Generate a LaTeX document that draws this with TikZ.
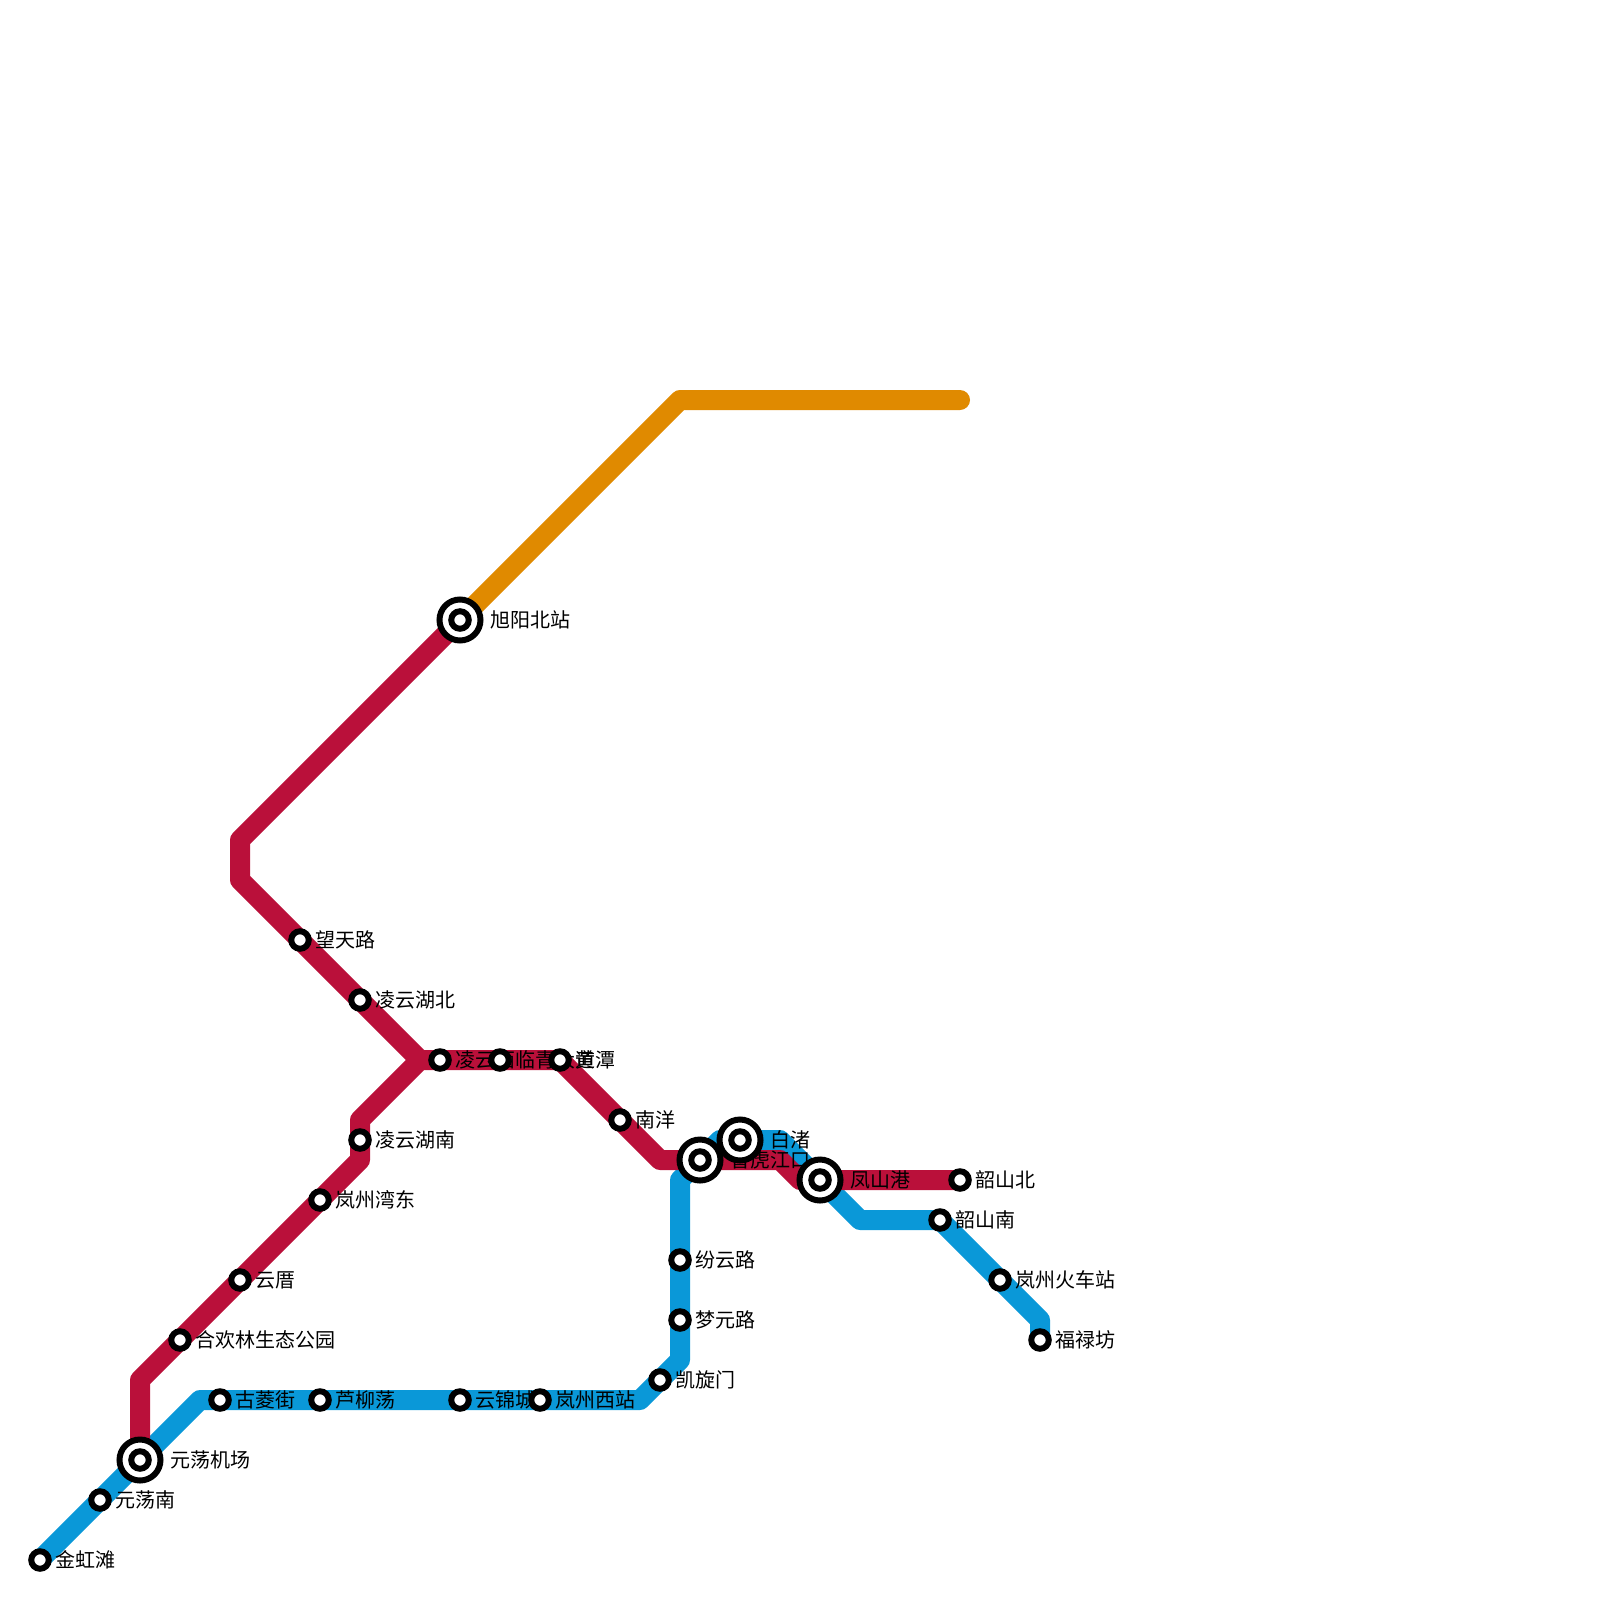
\documentclass[tikz,border=0pt]{standalone}
\usepackage{fontspec}
\setmainfont{Noto Sans CJK SC}
\tikzset{x=1pt,y=-1pt,
 metro/.style={line width=20pt,line join=round,line cap=round},
 sta/.style={circle,draw=black,fill=white,line width=6pt,minimum size=17.5pt,inner sep=0pt},
 hubo/.style={circle,draw=black,fill=white,line width=6pt,minimum size=41pt,inner sep=0pt},
 hubi/.style={circle,draw=black,fill=white,line width=6pt,minimum size=17.5pt,inner sep=0pt},
 lab/.style={anchor=west,inner sep=0pt,font=\fontsize{20}{20}\selectfont}}
\definecolor{bl}{HTML}{0A98D8}
\definecolor{rd}{HTML}{BA103A}
\definecolor{og}{HTML}{E08A00}
\begin{document}
\begin{tikzpicture}
\useasboundingbox (0,0) rectangle (1600,1600);
\fill[white] (0,0) rectangle (1600,1600);
\coordinate (a1) at (40,1560); \coordinate (a2) at (200,1400); \coordinate (a3) at (640,1400);
\coordinate (a4) at (680,1360); \coordinate (a5) at (680,1180); \coordinate (a6) at (720,1140);
\coordinate (a7) at (780,1140); \coordinate (a8) at (860,1220); \coordinate (a9) at (940,1220);
\coordinate (a10) at (1040,1320); \coordinate (a11) at (1040,1340);
\draw[metro,bl] (a1)--(a2)--(a3)--(a4)--(a5)--(a6)--(a7)--(a8)--(a9)--(a10)--(a11);
\coordinate (r1) at (140,1460); \coordinate (r2) at (140,1380); \coordinate (r3) at (360,1160);
\coordinate (r4) at (360,1120); \coordinate (r5) at (420,1060); \coordinate (r6) at (560,1060);
\coordinate (r7) at (660,1160); \coordinate (r8) at (780,1160); \coordinate (r9) at (800,1180);
\coordinate (r10) at (960,1180);
\draw[metro,rd] (r1)--(r2)--(r3)--(r4)--(r5)--(r6)--(r7)--(r8)--(r9)--(r10);
\coordinate (s1) at (420,1060); \coordinate (s2) at (240,880); \coordinate (s3) at (240,840); \coordinate (s4) at (460,620);
\draw[metro,rd] (s1)--(s2)--(s3)--(s4);
\coordinate (o1) at (460,620); \coordinate (o2) at (680,400); \coordinate (o3) at (960,400);
\draw[metro,og] (o1)--(o2)--(o3);
% labels
\node[lab] (l1) at (55,1560) {金虹滩};
\node[lab] (l2) at (115,1500) {元荡南};
\node[lab] (l3) at (170,1460) {元荡机场};
\node[lab] (l4) at (235,1400) {古菱街};
\node[lab] (l5) at (335,1400) {芦柳荡};
\node[lab] (l6) at (475,1400) {云锦城};
\node[lab] (l7) at (555,1400) {岚州西站};
\node[lab] (l8) at (675,1380) {凯旋门};
\node[lab] (l9) at (695,1320) {梦元路};
\node[lab] (l10) at (695,1260) {纷云路};
\node[lab] (l11) at (730,1160) {曹虎江口};
\node[lab] (l12) at (770,1140) {白渚};
\node[lab] (l13) at (850,1180) {凤山港};
\node[lab] (l14) at (955,1220) {韶山南};
\node[lab] (l15) at (1015,1280) {岚州火车站};
\node[lab] (l16) at (1055,1340) {福禄坊};
\node[lab] (l17) at (195,1340) {合欢林生态公园};
\node[lab] (l18) at (255,1280) {云厝};
\node[lab] (l19) at (335,1200) {岚州湾东};
\node[lab] (l20) at (375,1140) {凌云湖南};
\node[lab] (l21) at (375,1000) {凌云湖北};
\node[lab] (l22) at (315,940) {望天路};
\node[lab] (l23) at (455,1060) {凌云西};
\node[lab] (l24) at (515,1060) {临青大道};
\node[lab] (l25) at (575,1060) {黄潭};
\node[lab] (l26) at (635,1120) {南洋};
\node[lab] (l27) at (975,1180) {韶山北};
\node[lab] (l28) at (490,620) {旭阳北站};
% stations
\foreach \n/\p in {t1/{40,1560},t2/{100,1500},t3/{220,1400},t4/{320,1400},t5/{460,1400},t6/{540,1400},t7/{660,1380},t8/{680,1320},t9/{680,1260},t10/{940,1220},t11/{1000,1280},t12/{1040,1340},t13/{180,1340},t14/{240,1280},t15/{320,1200},t16/{360,1140},t17/{360,1000},t18/{300,940},t19/{440,1060},t20/{500,1060},t21/{560,1060},t22/{620,1120},t23/{960,1180}}
  \node[sta] (\n) at (\p) {};
\foreach \n/\p in {h1/{140,1460},h2/{460,620},h3/{700,1160},h4/{740,1140},h5/{820,1180}}{
  \node[hubo] (\n) at (\p) {};
  \node[hubi] (\n i) at (\p) {};
}
\end{tikzpicture}
\end{document}
